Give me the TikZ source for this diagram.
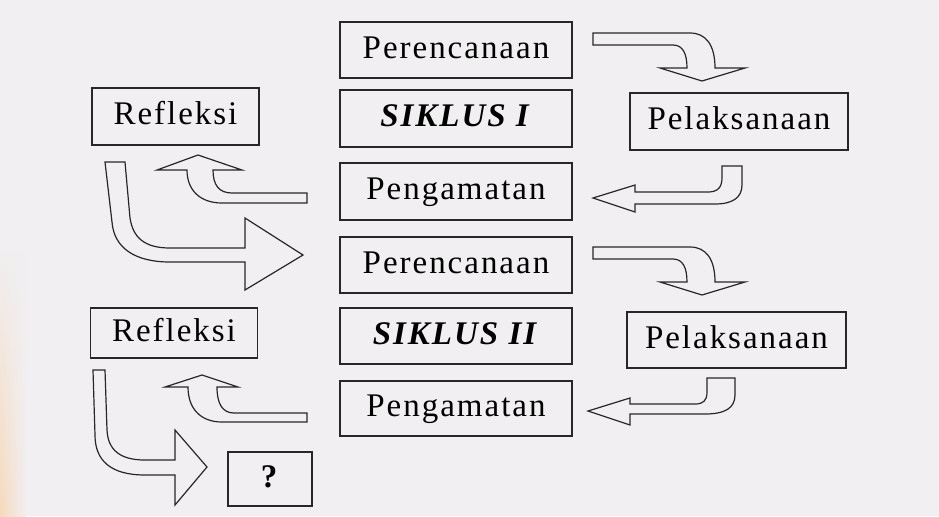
\documentclass[tikz,border=0pt]{standalone}
\usepackage{fontspec}
\usetikzlibrary{fadings}
\setmainfont{Liberation Serif}
\newfontfamily\boxfont[LetterSpace=6]{Liberation Serif}
\definecolor{paper}{RGB}{241,239,241}
\definecolor{ink}{RGB}{40,38,40}
\definecolor{edgetint}{RGB}{246,218,188}
\tikzset{
  stage/.style={draw=ink, line width=0.7pt, inner sep=0pt,
    font=\boxfont\fontsize{16.5}{18}\selectfont,
    text height=11.5pt, text depth=3.5pt, minimum height=28pt},
  midbox/.style={stage, minimum width=116pt},
  blockarrow/.style={draw=ink, line width=0.6pt, line join=miter}
}
\begin{document}
\begin{tikzpicture}[x=0.5pt,y=-0.5pt]
    \useasboundingbox (0,0) rectangle (939,516);
    \fill[paper] (0,0) rectangle (939,516);
    \shade[left color=edgetint, right color=paper, path fading=north] (0,250) rectangle (26,516);
    % middle column
    \node[midbox] (plan1) at (456,50) {Perencanaan};
    \node[midbox, minimum height=28.5pt] (cycle1) at (456,118.5) {\textbf{\textit{SIKLUS I}}};
    \node[midbox, minimum height=28.5pt] (observe1) at (456,191.5) {Pengamatan};
    \node[midbox] (plan2) at (456,265) {Perencanaan};
    \node[midbox] (cycle2) at (456,336) {\textbf{\textit{SIKLUS II}}};
    \node[midbox, minimum height=27.5pt] (observe2) at (456,408.5) {Pengamatan};
    % side boxes
    \node[stage, minimum width=83.5pt, minimum height=28.5pt] (reflect1) at (175.5,116.5) {Refleksi};
    \node[stage, minimum width=109pt, minimum height=28.5pt] (act1) at (739,121.5) {Pelaksanaan};
    \node[stage, minimum width=83.5pt, minimum height=25pt] (reflect2) at (174,333) {Refleksi};
    \node[stage, minimum width=109.5pt] (act2) at (736.5,340) {Pelaksanaan};
    \node[stage, minimum width=42pt, minimum height=27pt] (next) at (270,479) {\textbf{?}};
    % block arrows, cycle I
    \draw[blockarrow] (593,33) -- (690,33) .. controls (706,33) and (715,45) .. (715,68)
        -- (745,68) -- (702,81) -- (660,68) -- (687,68)
        .. controls (687,54) and (683,45) .. (673,45) -- (593,45) -- cycle;
    \draw[blockarrow] (722,166) -- (742,166) -- (742,185) .. controls (742,198) and (732,204) .. (715,204)
        -- (635,204) -- (635,212) -- (593,198) -- (635,185) -- (635,192) -- (708,192)
        .. controls (717,192) and (722,188) .. (722,178) -- cycle;
    \draw[blockarrow] (307,193) -- (307,203) -- (222,203) .. controls (200,203) and (187,190) .. (187,170)
        -- (157,170) -- (198,155) -- (242,170) -- (213,170)
        .. controls (213,185) and (219,193) .. (232,193) -- cycle;
    \draw[blockarrow] (105,162) -- (125,162) -- (130,218) .. controls (133,238) and (145,248) .. (170,248)
        -- (245,248) -- (245,218) -- (303,255) -- (245,290) -- (245,262) -- (170,262)
        .. controls (135,262) and (114,248) .. (112,222) -- cycle;
    % block arrows, cycle II
    \draw[blockarrow] (593,247) -- (690,247) .. controls (706,247) and (715,259) .. (715,282)
        -- (745,282) -- (702,295) -- (660,282) -- (687,282)
        .. controls (687,268) and (683,259) .. (673,259) -- (593,259) -- cycle;
    \draw[blockarrow] (707,378) -- (735,378) -- (735,395) .. controls (735,408) and (725,414) .. (705,414)
        -- (630,414) -- (630,425) -- (588,411) -- (630,398) -- (630,404) -- (695,404)
        .. controls (703,404) and (707,401) .. (707,392) -- cycle;
    \draw[blockarrow] (307,413) -- (307,422) -- (222,422) .. controls (200,422) and (188,408) .. (188,387)
        -- (165,387) -- (202,375) -- (238,387) -- (217,387)
        .. controls (217,403) and (222,413) .. (234,413) -- cycle;
    \draw[blockarrow] (93,370) -- (105,370) -- (107,430) .. controls (108,450) and (120,460) .. (145,460)
        -- (175,460) -- (175,430) -- (207,467) -- (175,505) -- (175,475) -- (145,475)
        .. controls (110,475) and (95,460) .. (95,435) -- cycle;
\end{tikzpicture}
\end{document}
